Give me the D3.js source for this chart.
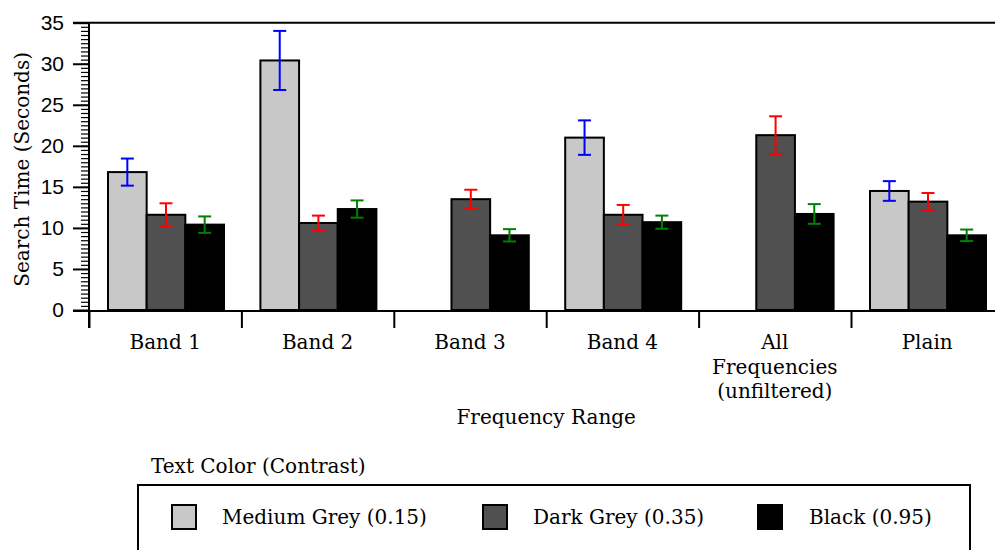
<!DOCTYPE html>
<html><head><meta charset="utf-8">
<script src="https://cdn.jsdelivr.net/npm/d3@7"></script>
<style>
body{margin:0;background:#fff;}
svg{display:block;}
text{fill:#000;}
</style></head>
<body>
<svg id="chart" width="995" height="550"></svg>
<script>
const categories = ["Band 1", "Band 2", "Band 3", "Band 4", "All\nFrequencies\n(unfiltered)", "Plain"];
const seriesNames = ["Medium Grey (0.15)", "Dark Grey (0.35)", "Black (0.95)"];
const seriesColors = ["#c8c8c8", "#505050", "#000000"];
const errColors = ["#0000ff", "#ff0000", "#008000"];
const mediumGrey = [16.8, 30.4, null, 21.0, null, 14.5];
const mediumGreyErr = [1.65, 3.6, null, 2.1, null, 1.2];
const darkGrey = [11.6, 10.6, 13.5, 11.6, 21.3, 13.2];
const darkGreyErr = [1.4, 0.9, 1.15, 1.2, 2.3, 1.05];
const black = [10.4, 12.3, 9.1, 10.7, 11.7, 9.1];
const blackErr = [1.0, 1.05, 0.75, 0.8, 1.2, 0.7];
const yTicks = [0, 5, 10, 15, 20, 25, 30, 35];

const series = [
  {name: seriesNames[0], values: mediumGrey, errs: mediumGreyErr, fill: seriesColors[0], err: errColors[0]},
  {name: seriesNames[1], values: darkGrey, errs: darkGreyErr, fill: seriesColors[1], err: errColors[1]},
  {name: seriesNames[2], values: black, errs: blackErr, fill: seriesColors[2], err: errColors[2]}
];

(function () {
const svg = d3.select("#chart");
const pL = 89, pR = 89 + 6 * 152.4, pT = 22.7, pB = 310;
const serif = "'DejaVu Serif', 'Liberation Serif', serif";
const sans = "'Liberation Sans', Arial, sans-serif";
const fs = 20;

const x0 = d3.scaleBand().domain(categories).range([pL, pR]).padding(0);
const x1 = d3.scaleBand().domain(seriesNames).range([19, 135]).padding(0);
const y = d3.scaleLinear().domain([0, 35]).range([pB, pT]);
const xi = d3.scaleLinear().domain([0, 6]).range([pL, pR]);

svg.append("line").attr("x1", 73).attr("x2", 995).attr("y1", y(35)).attr("y2", y(35))
  .attr("stroke", "#000").attr("stroke-width", 2);

const minorAxis = d3.axisLeft(y).tickValues(d3.range(0, 35.01, 0.5)).tickSize(8).tickFormat("");
svg.append("g").attr("transform", `translate(${pL},0)`).call(minorAxis)
  .call(g => g.select(".domain").remove())
  .call(g => g.selectAll("line").attr("stroke", "#000").attr("stroke-width", 1.2));

const yAxis = d3.axisLeft(y).tickValues(yTicks).tickSize(16).tickPadding(9).tickFormat(d3.format("d"));
svg.append("g").attr("transform", `translate(${pL},0)`).call(yAxis)
  .call(g => g.select(".domain").remove())
  .call(g => g.selectAll("line").attr("stroke", "#000").attr("stroke-width", 2))
  .call(g => g.selectAll("text").attr("font-family", sans).attr("font-size", 21).attr("fill", "#000"));

const groups = svg.append("g").selectAll("g").data(categories).join("g")
  .attr("transform", d => `translate(${x0(d)},0)`);

series.forEach((s) => {
  groups.each(function(c, i) {
    const v = s.values[i];
    if (v == null) return;
    d3.select(this).append("rect")
      .attr("x", x1(s.name)).attr("width", x1.bandwidth())
      .attr("y", y(v)).attr("height", y(0) - y(v))
      .attr("fill", s.fill).attr("stroke", "#000").attr("stroke-width", 2);
  });
});
series.forEach((s) => {
  groups.each(function(c, i) {
    const v = s.values[i], e = s.errs[i];
    if (v == null) return;
    const cx = x1(s.name) + x1.bandwidth() / 2;
    const eg = d3.select(this).append("g").attr("stroke", s.err).attr("stroke-width", 2);
    eg.append("line").attr("x1", cx).attr("x2", cx).attr("y1", y(v + e)).attr("y2", y(v - e));
    eg.append("line").attr("x1", cx - 6.5).attr("x2", cx + 6.5).attr("y1", y(v + e)).attr("y2", y(v + e));
    eg.append("line").attr("x1", cx - 6.5).attr("x2", cx + 6.5).attr("y1", y(v - e)).attr("y2", y(v - e));
  });
});

svg.append("line").attr("x1", pL).attr("x2", pL).attr("y1", y(35)).attr("y2", pB + 18)
  .attr("stroke", "#000").attr("stroke-width", 2);
svg.append("line").attr("x1", 73).attr("x2", 995).attr("y1", pB + 1).attr("y2", pB + 1)
  .attr("stroke", "#000").attr("stroke-width", 2);

const xAxis = d3.axisBottom(xi).tickValues(d3.range(0, 7)).tickSize(17).tickFormat("");
svg.append("g").attr("transform", `translate(0,${pB + 1})`).call(xAxis)
  .call(g => g.select(".domain").remove())
  .call(g => g.selectAll("line").attr("stroke", "#000").attr("stroke-width", 2));

const labels = svg.append("g").attr("font-family", serif).attr("font-size", fs).attr("text-anchor", "middle");
categories.forEach(c => {
  const lines = c.split("\n");
  const cx = x0(c) + x0.bandwidth() / 2;
  const t = labels.append("text").attr("x", cx).attr("y", 349);
  lines.forEach((ln, k) => t.append("tspan").attr("x", cx).attr("dy", k === 0 ? 0 : 24.5).text(ln));
});

svg.append("text").attr("x", (pL + pR) / 2).attr("y", 424).attr("text-anchor", "middle")
  .attr("font-family", serif).attr("font-size", fs).text("Frequency Range");
svg.append("text").attr("transform", `translate(29,${(pT + pB) / 2 + 3}) rotate(-90)`)
  .attr("text-anchor", "middle").attr("font-family", serif).attr("font-size", fs).text("Search Time (Seconds)");

svg.append("text").attr("x", 151).attr("y", 473).attr("font-family", serif).attr("font-size", fs).text("Text Color (Contrast)");
svg.append("rect").attr("x", 138).attr("y", 485).attr("width", 832).attr("height", 80)
  .attr("fill", "none").attr("stroke", "#000").attr("stroke-width", 2);
const legendX = [172, 483, 758];
const legendTextX = [222, 533, 809];
series.forEach((s, i) => {
  svg.append("rect").attr("x", legendX[i]).attr("y", 505).attr("width", 24).attr("height", 24)
    .attr("fill", s.fill).attr("stroke", "#000").attr("stroke-width", 2);
  svg.append("text").attr("x", legendTextX[i]).attr("y", 524).attr("font-family", serif).attr("font-size", fs).text(s.name);
});
})();
</script>
</body></html>
